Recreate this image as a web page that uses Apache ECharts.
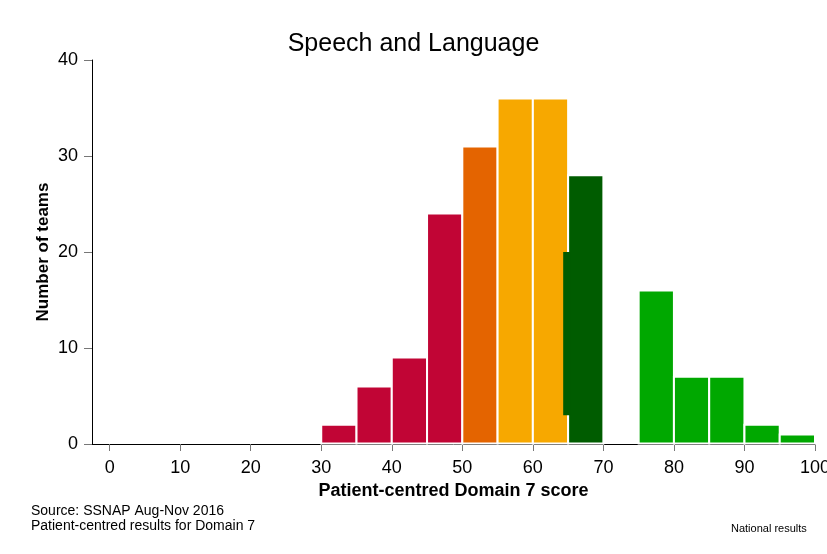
<!DOCTYPE html>
<html lang="en">
<head>
  <meta charset="UTF-8">
  <title>Speech and Language</title>
  <style>
    html, body { margin: 0; padding: 0; background: #fff; }
    #chart { width: 827px; height: 554px; }
  </style>
  <script src="https://cdn.jsdelivr.net/npm/echarts@6.0.0/dist/echarts.min.js"></script>
</head>
<body>
  <div id="chart"></div>
  <script>
    // histogram bins (width 5) and number of teams in each
    const binStarts = [30, 35, 40, 45, 50, 55, 60, 65, 70, 75, 80, 85, 90, 95];
    const teams = [2, 6, 9, 24, 31, 36, 36, 28, 0, 16, 7, 7, 2, 1];
    const binColors = ['#c10535', '#c10535', '#c10535', '#c10535', '#e46400', '#f7a800', '#f7a800',
                       '#005c00', '#005c00', '#00a800', '#00a800', '#00a800', '#00a800', '#00a800'];
    const binWidth = 5;
    // small dark green overlap piece next to the 65-70 bar: [x0, x1, y0, y1]
    const overlap = [[64.3, 65.3, 3, 20]];
    const xTicks = [0, 10, 20, 30, 40, 50, 60, 70, 80, 90, 100];

    const font = 'Liberation Sans, Arial, sans-serif';
    const chart = echarts.init(document.getElementById('chart'));

    const barData = binStarts.map((s, i) => [s, s + binWidth, teams[i]]);

    chart.setOption({
      animation: false,
      title: {
        text: 'Speech and Language',
        left: 'center',
        top: 27,
        textStyle: { fontFamily: font, fontSize: 25, fontWeight: 'normal', color: '#000' }
      },
      grid: { left: 92, right: 12, top: 60, bottom: 110, outerBoundsMode: 'none', containLabel: false },
      xAxis: {
        type: 'value',
        min: -2.5,
        max: 100,
        name: 'Patient-centred Domain 7 score',
        nameLocation: 'middle',
        nameGap: 38,
        nameMoveOverlap: false,
        nameTextStyle: { fontFamily: font, fontSize: 18, fontWeight: 'bold', color: '#000' },
        axisLine: { onZero: false, lineStyle: { color: '#000', width: 1 } },
        axisTick: { customValues: xTicks, length: 7, lineStyle: { color: '#777' } },
        axisLabel: { customValues: xTicks, fontFamily: font, fontSize: 18, color: '#000', margin: 15 },
        splitLine: { show: false }
      },
      yAxis: {
        type: 'value',
        min: 0,
        max: 40,
        interval: 10,
        name: 'Number of teams',
        nameLocation: 'middle',
        nameGap: 40,
        nameMoveOverlap: false,
        nameTextStyle: { fontFamily: font, fontSize: 17, fontWeight: 'bold', color: '#000' },
        axisLine: { show: true, onZero: false, lineStyle: { color: '#000', width: 1 } },
        axisTick: { show: true, length: 8, lineStyle: { color: '#777' } },
        axisLabel: { fontFamily: font, fontSize: 18, color: '#000', margin: 14 },
        splitLine: { show: false }
      },
      series: [
        {
          type: 'custom',
          data: barData,
          encode: { x: [0, 1], y: 2 },
          renderItem: function (params, api) {
            const v = api.value(2);
            if (!v) return null;
            const p0 = api.coord([api.value(0), v]);
            const p1 = api.coord([api.value(1), 0]);
            return {
              type: 'rect',
              shape: { x: p0[0], y: p0[1], width: p1[0] - p0[0], height: p1[1] - p0[1] - 0.5 },
              style: { fill: binColors[params.dataIndex], stroke: '#fff', lineWidth: 2 }
            };
          }
        },
        {
          type: 'custom',
          data: overlap,
          encode: { x: [0, 1], y: [2, 3] },
          renderItem: function (params, api) {
            const p0 = api.coord([api.value(0), api.value(3)]);
            const p1 = api.coord([api.value(1), api.value(2)]);
            return {
              type: 'rect',
              shape: { x: p0[0], y: p0[1], width: p1[0] - p0[0], height: p1[1] - p0[1] },
              style: { fill: '#005c00' }
            };
          }
        }
      ],
      graphic: [
        {
          type: 'text', left: 31, top: 504,
          style: { text: 'Source: SSNAP Aug-Nov 2016\nPatient-centred results for Domain 7',
                   font: '14px ' + font, fill: '#000', lineHeight: 15 }
        },
        {
          type: 'text', left: 731, top: 523,
          style: { text: 'National results', font: '11px ' + font, fill: '#000' }
        }
      ]
    });
  </script>
</body>
</html>
